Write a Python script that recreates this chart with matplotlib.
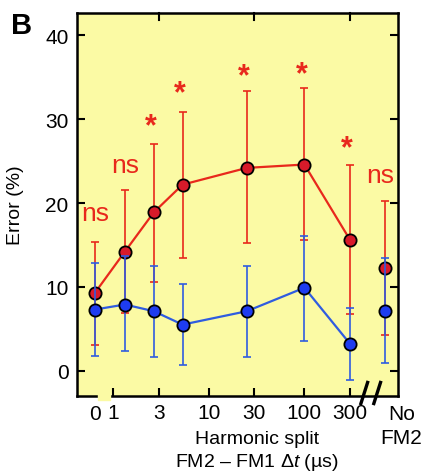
import matplotlib.pyplot as plt
import numpy as np

plt.rcParams["font.family"] = ["Liberation Sans", "DejaVu Sans"]
plt.rcParams["mathtext.fontset"] = "custom"
plt.rcParams["mathtext.rm"] = "Liberation Sans"
plt.rcParams["mathtext.it"] = "Liberation Sans:italic"

# harmonic split FM2 - FM1 (us); last point is "No FM2"
split_us = [0, 1.33, 2.67, 5.33, 25, 100, 300]
tick_values = [1, 3, 10, 30, 100, 300]
tick_labels = ["1", "3", "10", "30", "100", "300"]

red_mean = [9.3, 14.2, 18.9, 22.2, 24.2, 24.6, 15.6]
red_hi = [15.4, 21.6, 27.1, 30.9, 33.4, 33.7, 24.6]
red_lo = [3.1, 6.9, 10.6, 13.4, 15.2, 15.6, 6.8]
red_nofm2 = [12.3, 20.3, 4.3]  # mean, hi, lo

blue_mean = [7.3, 7.9, 7.1, 5.5, 7.1, 9.9, 3.2]
blue_hi = [12.9, 13.7, 12.5, 10.4, 12.5, 16.1, 7.5]
blue_lo = [1.8, 2.3, 1.6, 0.7, 1.6, 3.6, -1.1]
blue_nofm2 = [7.1, 13.5, 0.9]

marks = ["ns", "ns", "*", "*", "*", "*", "*"]
mark_y = [18.8, 24.5, 30.1, 34.0, 36.0, 36.3, 27.4]
nofm2_mark, nofm2_mark_y = "ns", 23.3

RED = "#e8281c"
RED_FACE = "#d81a2a"
BLUE = "#2f5ce0"
BLUE_FACE = "#1e3cf0"
YELLOW = "#fbfaa4"

ZERO_POS = -0.188
NOFM2_POS = 2.842


def pos(v):
    return ZERO_POS if v == 0 else np.log10(v)


x = np.array([pos(v) for v in split_us])

fig = plt.figure(figsize=(4.23, 4.77), dpi=100)
ax = fig.add_axes([0.182, 0.168, 0.759, 0.803])
ax.set_facecolor(YELLOW)


def draw(mean, hi, lo, nofm2, line, face, z):
    mean = np.array(mean)
    yerr = [mean - np.array(lo), np.array(hi) - mean]
    ax.errorbar(x, mean, yerr=yerr, fmt="none", ecolor=line, elinewidth=1.2,
                capsize=3, capthick=1.2, zorder=z)
    ax.plot(x, mean, "-", color=line, lw=1.6, zorder=z + 0.5)
    ax.plot(x, mean, "o", ms=8.8, mfc=face, mec="black", mew=1.3, zorder=z + 1)
    m, h, l = nofm2
    ax.errorbar([NOFM2_POS], [m], yerr=[[m - l], [h - m]], fmt="none",
                ecolor=line, elinewidth=1.2, capsize=3, capthick=1.2, zorder=z)
    ax.plot([NOFM2_POS], [m], "o", ms=8.8, mfc=face, mec="black", mew=1.3,
            zorder=z + 1)


draw(red_mean, red_hi, red_lo, red_nofm2, RED, RED_FACE, 2)
draw(blue_mean, blue_hi, blue_lo, blue_nofm2, BLUE, BLUE_FACE, 4)

for xi, t, yi in zip(x, marks, mark_y):
    if t == "ns":
        ax.text(xi, yi, t, color=RED, fontsize=19, ha="center", va="center",
                zorder=6)
    else:
        # the asterisk glyph sits high in its box, so pull it down a little
        ax.text(xi - 0.03, yi - 0.9, t, color=RED, fontsize=22,
                fontweight="bold", ha="center", va="center", zorder=6)
ax.text(NOFM2_POS - 0.05, nofm2_mark_y, nofm2_mark, color=RED, fontsize=19,
        ha="center", va="center", zorder=6)

ax.set_xlim(-0.376, 2.978)
ax.set_ylim(-3.0, 42.7)

ax.set_yticks([0, 10, 20, 30, 40])
ax.tick_params(axis="y", direction="in", right=True, length=6, width=1.5,
               labelsize=15, pad=6)
ax.set_xticks([np.log10(v) for v in tick_values])
ax.set_xticklabels(tick_labels)
ax.tick_params(axis="x", direction="in", length=6, width=1.5, labelsize=15,
               pad=5)
for s in ax.spines.values():
    s.set_linewidth(1.8)

# top ticks at 3, 30, 300
for v in [3, 30, 300]:
    ax.plot([np.log10(v)] * 2, [42.7, 41.9], color="black", lw=1.5,
            clip_on=False, zorder=7)

tr = ax.get_xaxis_transform()
ax.text(ZERO_POS, -0.022, "0", transform=tr, fontsize=15, ha="center",
        va="top")
ax.text(NOFM2_POS + 0.17, -0.022, "No\nFM2", transform=tr, fontsize=15,
        ha="center", va="top", linespacing=1.3)

# axis break marks
ax.add_patch(plt.Rectangle((-0.157, -0.012), 0.126, 0.024, transform=tr,
                           color=YELLOW, clip_on=False, zorder=8))
for xb in [2.59, 2.725]:
    ax.plot([xb, xb + 0.07], [-0.02, 0.035], transform=tr, color="black",
            lw=2.4, clip_on=False, zorder=9)

ax.set_ylabel("Error (%)", fontsize=14, labelpad=15)
fig.text(0.607, 0.078, "Harmonic split", fontsize=14, ha="center", va="center")
fig.text(0.607, 0.03, "FM2 – FM1 Δ$t$ (µs)", fontsize=14,
         ha="center", va="center")
fig.text(0.025, 0.945, "B", fontsize=21, fontweight="bold", va="center")

fig.savefig("out.png", dpi=100)
